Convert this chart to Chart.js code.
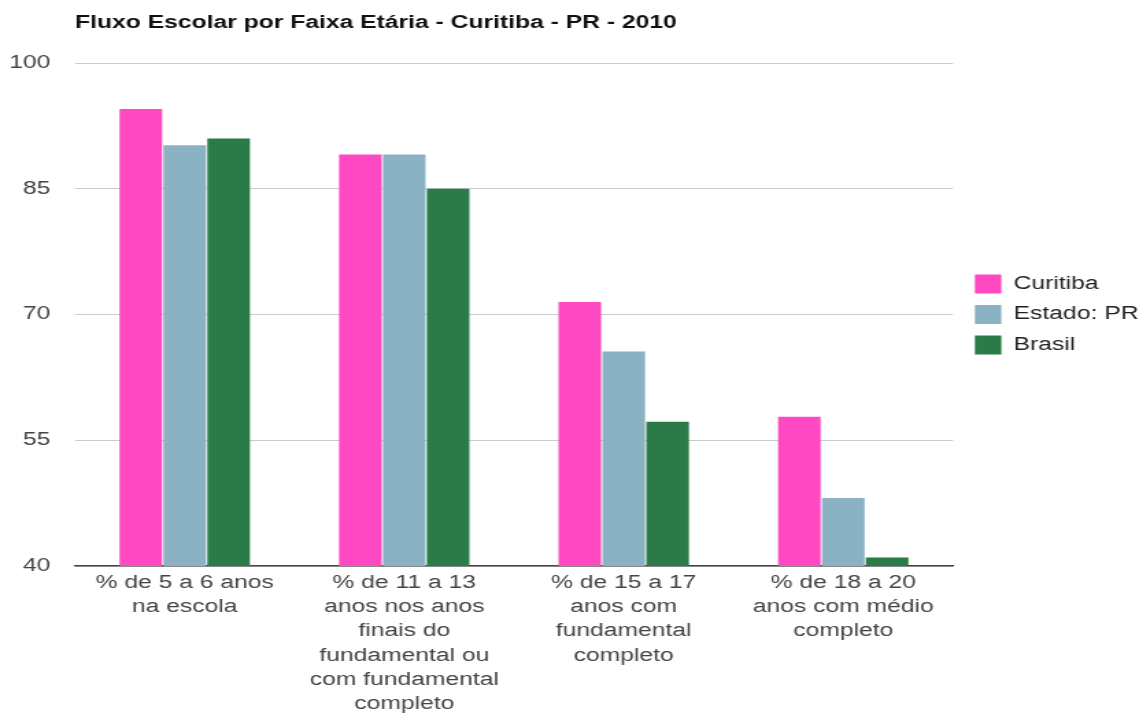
<!DOCTYPE html>
<html>
<head>
<meta charset="utf-8">
<title>Fluxo Escolar por Faixa Etária - Curitiba - PR - 2010</title>
<script src="https://cdn.jsdelivr.net/npm/chart.js@4.4.1/dist/chart.umd.min.js"></script>
<style>
    html, body { margin: 0; padding: 0; background: #ffffff; overflow: hidden; }
    /* the reference image is stretched sideways, so the canvas is too */
    #wrap { width: 831px; height: 713px; transform-origin: 0 0; transform: scaleX(1.3706); }
    canvas { display: block; }
</style>
</head>
<body>
<div id="wrap"><canvas id="myChart" width="831" height="713"></canvas></div>
<script>
// Chart data
const chartTitle = 'Fluxo Escolar por Faixa Etária - Curitiba - PR - 2010';
const categories = [
    ['% de 5 a 6 anos', 'na escola'],
    ['% de 11 a 13', 'anos nos anos', 'finais do', 'fundamental ou', 'com fundamental', 'completo'],
    ['% de 15 a 17', 'anos com', 'fundamental', 'completo'],
    ['% de 18 a 20', 'anos com médio', 'completo']
];
const curitiba = [94.5, 89.1, 71.5, 57.8];
const estadoPR = [90.2, 89.1, 65.6, 48.1];
const brasil = [91.0, 85.0, 57.2, 41.0];
const yTicks = [40, 55, 70, 85, 100];

const FONT = "'Liberation Sans', Arial, sans-serif";

// Title drawn at the left edge of the plot area
const titlePlugin = {
    id: 'leftTitle',
    afterDraw(chart) {
        const ctx = chart.ctx;
        ctx.save();
        ctx.font = 'bold 18px ' + FONT;
        ctx.fillStyle = '#111111';
        ctx.textAlign = 'left';
        ctx.textBaseline = 'alphabetic';
        ctx.fillText(chartTitle, chart.chartArea.left, 28);
        ctx.restore();
    }
};

function makeDataset(label, values, color) {
    return {
        label: label,
        data: values,
        backgroundColor: color,
        borderWidth: 0,
        categoryPercentage: 0.6,
        barPercentage: 0.97
    };
}

const ctx = document.getElementById('myChart').getContext('2d');
const myChart = new Chart(ctx, {
    type: 'bar',
    data: {
        labels: categories,
        datasets: [
            makeDataset('Curitiba', curitiba, '#ff49c3'),
            makeDataset('Estado: PR', estadoPR, '#8ab2c3'),
            makeDataset('Brasil', brasil, '#2a7b47')
        ]
    },
    options: {
        responsive: false,
        devicePixelRatio: 1,
        animation: false,
        layout: { padding: { top: 63, right: 0, bottom: 0, left: 0 } },
        plugins: {
            title: { display: false },
            tooltip: { enabled: false },
            legend: {
                position: 'right',
                align: 'center',
                fullSize: false,
                maxWidth: 131.2,
                labels: {
                    boxWidth: 19.3,
                    boxHeight: 19,
                    padding: 11.5,
                    color: '#222222',
                    font: { family: FONT, size: 18 }
                }
            }
        },
        scales: {
            x: {
                grid: { display: false, drawTicks: false },
                border: { display: true, color: '#444444', width: 1.5 },
                ticks: {
                    padding: 5,
                    maxRotation: 0,
                    autoSkip: false,
                    color: '#444444',
                    font: { family: FONT, size: 18, lineHeight: 1.345 }
                },
                afterFit: (scale) => { scale.height = 147; }
            },
            y: {
                min: 40,
                max: 100,
                afterBuildTicks: (scale) => {
                    scale.ticks = yTicks.map(v => ({ value: v }));
                },
                grid: { color: '#cccccc', drawTicks: false },
                border: { display: false },
                ticks: {
                    padding: 18,
                    color: '#444444',
                    font: { family: FONT, size: 18 }
                },
                afterFit: (scale) => { scale.width = 54.7; }
            },
            // empty spacer between the plot and the legend
            gap: {
                type: 'linear',
                position: 'right',
                display: true,
                grid: { display: false, drawTicks: false },
                border: { display: false },
                ticks: { display: false },
                afterFit: (scale) => { scale.width = 4.5; }
            }
        }
    },
    plugins: [titlePlugin]
});
</script>
</body>
</html>
